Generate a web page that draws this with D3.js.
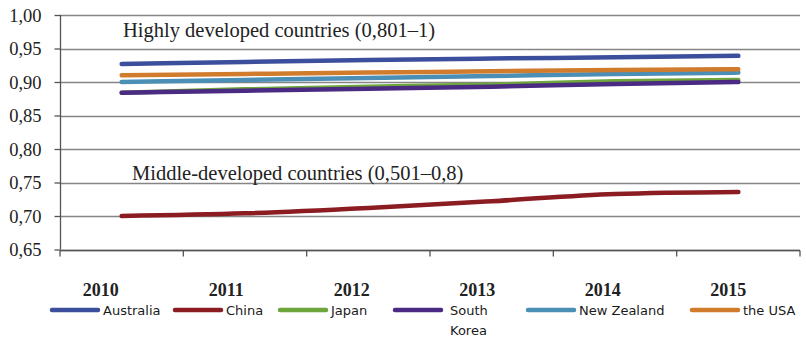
<!DOCTYPE html>
<html><head><meta charset="utf-8">
<script src="https://cdn.jsdelivr.net/npm/d3@7"></script>
<style>body{margin:0;background:#fff}svg{display:block}</style>
</head><body>
<svg id="c" width="806" height="338"></svg>
<script>
const years = ["2010","2011","2012","2013","2014","2015"];
const australia = [0.927,0.930,0.933,0.935,0.937,0.939];
const china = [0.700,0.704,0.712,0.722,0.733,0.736];
const japan = [0.884,0.889,0.893,0.896,0.901,0.903];
const southKorea = [0.884,0.887,0.890,0.893,0.897,0.900];
const newZealand = [0.900,0.903,0.906,0.909,0.912,0.914];
const usa = [0.910,0.912,0.914,0.916,0.918,0.919];
const seriesNames = ["Australia","China","Japan","South Korea","New Zealand","the USA"];
const seriesColors = ["#3b4f9c","#8a1c22","#6ea53c","#4a2a83","#4b8fb7","#d17b2c"];
const yTicks = [0.65,0.70,0.75,0.80,0.85,0.90,0.95,1.00];
const annotations = ["Highly developed countries (0,801\u20131)","Middle-developed countries (0,501\u20130,8)"];
const annotationValues = [0.967,0.754];

const series = [australia,china,japan,southKorea,newZealand,usa];
const svg = d3.select("#c");
const L=60,R=800,T=15,B=249.5;
const x = d3.scaleBand().domain(years).range([L,R]);
const y = d3.scaleLinear().domain([0.65,1.0]).range([B,T]);

// gridlines
svg.append("g").selectAll("line").data(yTicks).join("line")
  .attr("x1",L).attr("x2",R).attr("y1",d=>Math.round(y(d))+0.5).attr("y2",d=>Math.round(y(d))+0.5)
  .attr("stroke","#858585").attr("stroke-width",1.3);

// y axis
const ya = svg.append("g").attr("transform",`translate(${L+0.5},0)`)
  .call(d3.axisLeft(y).tickValues(yTicks).tickSize(6).tickPadding(13).tickFormat(d=>d3.format(".2f")(d).replace(".",",")));
ya.select(".domain").attr("stroke","#555").attr("stroke-width",1.3).attr("d",`M0,${T}V${B}`);
ya.selectAll(".tick line").attr("stroke","#555").attr("stroke-width",1.3);
ya.selectAll("text").attr("font-family","Liberation Serif").attr("font-size",18.5).attr("fill","#222").attr("dy","0.35em");

// x axis
const xa = svg.append("g").attr("transform",`translate(0,${Math.round(B)+0.5})`);
const edges = years.map(d=>x(d)).concat([R]);
xa.append("line").attr("x1",L).attr("x2",R).attr("stroke","#555").attr("stroke-width",1.3);
xa.selectAll(".tk").data(edges).join("line").attr("class","tk")
  .attr("x1",d=>d).attr("x2",d=>d).attr("y1",0).attr("y2",6).attr("stroke","#555").attr("stroke-width",1.3);
xa.selectAll(".lb").data(years).join("text").attr("class","lb")
  .attr("x",(d,i)=>x(d)+x.bandwidth()/2-21+i*2.2).attr("y",45)
  .attr("text-anchor","middle").attr("font-family","Liberation Serif").attr("font-size",18)
  .attr("font-weight","bold").attr("fill","#222").text(d=>d);

// lines
const line = d3.line().x((d,i)=>x(years[i])+x.bandwidth()/2).y(d=>y(d)).curve(d3.curveMonotoneX);
svg.append("g").selectAll("path").data(series).join("path")
  .attr("d",line).attr("fill","none").attr("stroke",(d,i)=>seriesColors[i])
  .attr("stroke-width",4.5).attr("stroke-linecap","round");

// annotations
svg.append("g").selectAll("text").data(annotations).join("text")
  .attr("x",(d,i)=>i===0?123:132).attr("y",(d,i)=>y(annotationValues[i]))
  .attr("font-family","Liberation Serif").attr("font-size",20.5).attr("fill","#222").text(d=>d);

// legend
const legX = [52,175,280,395,528,692];
const lg = svg.append("g").selectAll("g").data(seriesNames).join("g")
  .attr("transform",(d,i)=>`translate(${legX[i]},310)`);
lg.append("line").attr("x1",0).attr("x2",46).attr("stroke",(d,i)=>seriesColors[i]).attr("stroke-width",4.5).attr("stroke-linecap","round");
lg.each(function(d){
  const t = d3.select(this).append("text").attr("x",d==="South Korea"?55:51).attr("y",5)
    .attr("font-family","DejaVu Sans").attr("font-size",13).attr("fill","#1a1a1a");
  if(d==="South Korea"){
    t.append("tspan").attr("x",55).attr("y",5).text("South");
    t.append("tspan").attr("x",55).attr("y",25).text("Korea");
  } else t.text(d);
});
</script>
</body></html>
